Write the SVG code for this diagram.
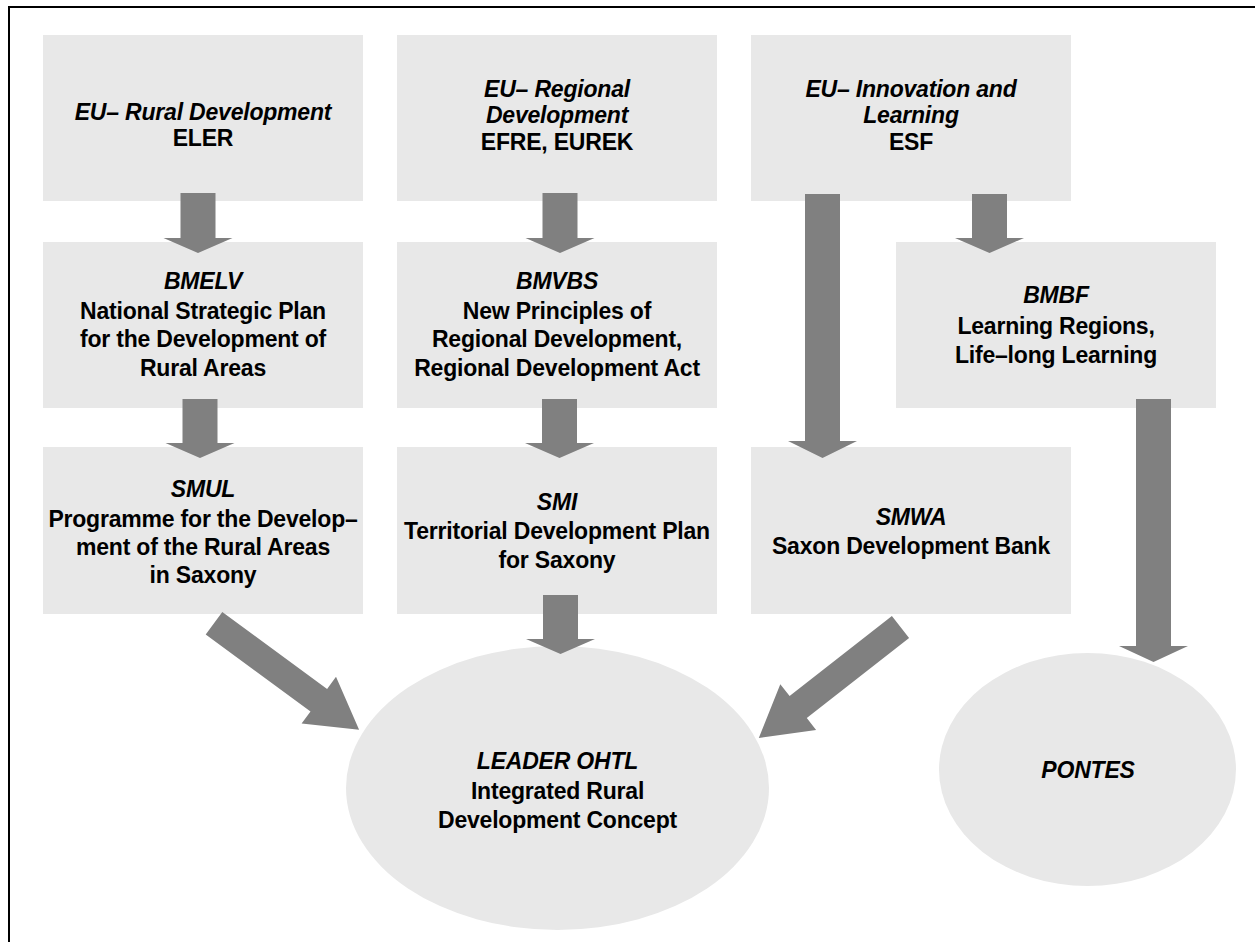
<svg xmlns="http://www.w3.org/2000/svg" width="1255" height="942" viewBox="0 0 1255 942">
<style>
.box{fill:#e8e8e8}
.arr{fill:#808080}
text{font-family:"Liberation Sans",Arial,sans-serif;font-weight:bold;font-size:23px;text-anchor:middle;fill:#000;letter-spacing:-0.2px}
.i{font-style:italic}
</style>
<rect x="0" y="0" width="1255" height="942" fill="#ffffff"/>
<path d="M9,942 V7 H1255" stroke="#000" stroke-width="2" fill="none"/>
<g id="eu-rural">
<rect class="box" x="43" y="35" width="320" height="166"/>
<text><tspan class="i" x="203" y="120">EU– Rural Development</tspan><tspan x="203" y="146">ELER</tspan></text>
</g>
<g id="eu-regional">
<rect class="box" x="397" y="35" width="320" height="166"/>
<text><tspan class="i" x="557" y="97">EU– Regional</tspan><tspan class="i" x="557" y="123">Development</tspan><tspan x="557" y="150">EFRE, EUREK</tspan></text>
</g>
<g id="eu-innovation">
<rect class="box" x="751" y="35" width="320" height="166"/>
<text><tspan class="i" x="911" y="97">EU– Innovation and</tspan><tspan class="i" x="911" y="123">Learning</tspan><tspan x="911" y="150">ESF</tspan></text>
</g>
<g id="bmelv">
<rect class="box" x="43" y="242" width="320" height="166"/>
<text><tspan class="i" x="203" y="289">BMELV</tspan><tspan x="203" y="319">National Strategic Plan</tspan><tspan x="203" y="347">for the Development of</tspan><tspan x="203" y="376">Rural Areas</tspan></text>
</g>
<g id="bmvbs">
<rect class="box" x="397" y="242" width="320" height="166"/>
<text><tspan class="i" x="557" y="289">BMVBS</tspan><tspan x="557" y="319">New Principles of</tspan><tspan x="557" y="347">Regional Development,</tspan><tspan x="557" y="376">Regional Development Act</tspan></text>
</g>
<g id="bmbf">
<rect class="box" x="896" y="242" width="320" height="166"/>
<text><tspan class="i" x="1056" y="303">BMBF</tspan><tspan x="1056" y="334">Learning Regions,</tspan><tspan x="1056" y="363">Life–long Learning</tspan></text>
</g>
<g id="smul">
<rect class="box" x="43" y="447" width="320" height="167"/>
<text><tspan class="i" x="203" y="497">SMUL</tspan><tspan x="203" y="527">Programme for the Develop–</tspan><tspan x="203" y="555">ment of the Rural Areas</tspan><tspan x="203" y="583">in Saxony</tspan></text>
</g>
<g id="smi">
<rect class="box" x="397" y="447" width="320" height="167"/>
<text><tspan class="i" x="557" y="510">SMI</tspan><tspan x="557" y="539">Territorial Development Plan</tspan><tspan x="557" y="568">for Saxony</tspan></text>
</g>
<g id="smwa">
<rect class="box" x="751" y="447" width="320" height="167"/>
<text><tspan class="i" x="911" y="525">SMWA</tspan><tspan x="911" y="554">Saxon Development Bank</tspan></text>
</g>
<g id="leader">
<ellipse class="box" cx="557.5" cy="788" rx="211.5" ry="142"/>
<text><tspan class="i" x="557.5" y="769">LEADER OHTL</tspan><tspan x="557.5" y="799">Integrated Rural</tspan><tspan x="557.5" y="828">Development Concept</tspan></text>
</g>
<g id="pontes">
<ellipse class="box" cx="1087.5" cy="769.5" rx="148.5" ry="116.5"/>
<text class="i" x="1088" y="778">PONTES</text>
</g>
<g id="connectors">
<polygon class="arr" points="180.5,193 215.5,193 215.5,238 232.5,238 198,253 163.5,238 180.5,238"/>
<polygon class="arr" points="542.5,193 577.5,193 577.5,238 594.5,238 560,253 525.5,238 542.5,238"/>
<polygon class="arr" points="972,194 1007,194 1007,238 1024,238 989.5,253 955,238 972,238"/>
<polygon class="arr" points="805,194 840,194 840,441 857,441 822.5,458 788,441 805,441"/>
<polygon class="arr" points="182.5,399 217.5,399 217.5,443 234.5,443 200,458 165.5,443 182.5,443"/>
<polygon class="arr" points="542,399 577,399 577,443 594,443 559.5,458 525,443 542,443"/>
<polygon class="arr" points="543,595 578,595 578,639 595,639 560.5,654 526,639 543,639"/>
<polygon class="arr" points="1136,399 1171,399 1171,646 1188,646 1153.5,662 1119,646 1136,646"/>
<polygon class="arr" points="222.3,611.9 327.1,688.9 336,676.8 359.1,729.8 301.6,723.6 310.5,711.5 205.7,634.5"/>
<polygon class="arr" points="891.9,615.9 909.1,637.9 806.8,718.1 816.1,729.9 758.8,738 780.3,684.3 789.6,696.1"/>
</g>
</svg>
